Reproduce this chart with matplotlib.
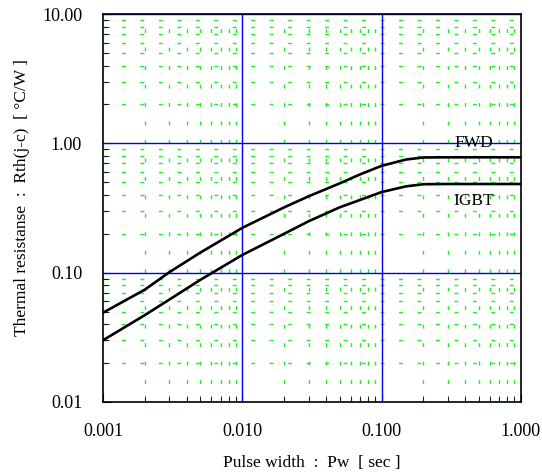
# Transient thermal resistance chart (log-log), FWD and IGBT curves.
import matplotlib
matplotlib.use("Agg")
import matplotlib.pyplot as plt
from matplotlib.ticker import FixedLocator, FixedFormatter, NullFormatter

plt.rcParams["font.family"] = ["Liberation Serif", "DejaVu Serif"]

# ------------------------------------------------------------
# Data
# ------------------------------------------------------------
pulse_width = [0.001, 0.002, 0.003, 0.005, 0.01, 0.02, 0.03, 0.05, 0.07,
               0.1, 0.15, 0.2, 0.3, 1.0]
fwd_rth = [0.049, 0.074, 0.101, 0.143, 0.222, 0.32, 0.39, 0.49, 0.575,
           0.67, 0.75, 0.778, 0.78, 0.78]
igbt_rth = [0.030, 0.047, 0.062, 0.088, 0.137, 0.20, 0.25, 0.32, 0.365,
            0.42, 0.465, 0.483, 0.485, 0.485]

x_ticks = [0.001, 0.01, 0.1, 1.0]
x_tick_labels = ["0.001", "0.010", "0.100", "1.000"]
y_ticks = [0.01, 0.1, 1.0, 10.0]
y_tick_labels = ["0.01", "0.10", "1.00", "10.00"]

# minor positions 2..9 in every decade
x_minor = [m * d for d in [0.001, 0.01, 0.1] for m in range(2, 10)]
y_minor = [m * d for d in [0.01, 0.1, 1.0] for m in range(2, 10)]

fig = plt.figure(figsize=(5.42, 4.76), dpi=100)
ax = fig.add_axes([0.190, 0.1555, 0.771, 0.815])

ax.set_xscale("log")
ax.set_yscale("log")
ax.set_xlim(0.001, 1.0)
ax.set_ylim(0.01, 10.0)

# green dashed minor grid
for xv in x_minor:
    ax.axvline(xv, color="#22ee22", lw=1.0, dashes=(2.8, 10.5), zorder=1)
for yv in y_minor:
    ax.axhline(yv, color="#22ee22", lw=1.0, dashes=(2.8, 10.5), zorder=1)

# blue major grid
for xv in x_ticks[1:-1]:
    ax.axvline(xv, color="#0000ee", lw=1.0, zorder=2)
for yv in y_ticks[1:]:
    ax.axhline(yv, color="#0000ee", lw=1.0, zorder=2)

# curves
ax.plot(pulse_width, fwd_rth, color="black", lw=1.9, zorder=3,
        solid_joinstyle="round")
ax.plot(pulse_width, igbt_rth, color="black", lw=1.9, zorder=3,
        solid_joinstyle="round")

ax.text(0.335, 1.0, "FWD", fontsize=12.5, va="center", ha="left", zorder=4)
ax.text(0.33, 0.36, "IGBT", fontsize=12.5, va="center", ha="left", zorder=4)

# ticks
ax.xaxis.set_major_locator(FixedLocator(x_ticks))
ax.xaxis.set_major_formatter(FixedFormatter(x_tick_labels))
ax.xaxis.set_minor_locator(FixedLocator(x_minor))
ax.xaxis.set_minor_formatter(NullFormatter())
ax.yaxis.set_major_locator(FixedLocator(y_ticks))
ax.yaxis.set_major_formatter(FixedFormatter(y_tick_labels))
ax.yaxis.set_minor_locator(FixedLocator(y_minor))
ax.yaxis.set_minor_formatter(NullFormatter())

ax.tick_params(which="both", direction="in", top=False, right=False,
               labelsize=13, color="black")
ax.tick_params(which="major", length=6)
ax.tick_params(which="minor", length=4)
ax.tick_params(axis="x", which="major", pad=15)
ax.tick_params(axis="y", which="major", pad=15)

for sp in ax.spines.values():
    sp.set_linewidth(1.2)
    sp.set_zorder(5)

ax.set_xlabel("Pulse width  :  Pw  [ sec ]", fontsize=12.5)
ax.set_ylabel("Thermal resistanse  :  Rth(j-c)  [ °C/W ]", fontsize=12.5)
ax.xaxis.set_label_coords(0.5, -0.136)
ax.yaxis.set_label_coords(-0.175, 0.527)

fig.savefig("out.png", dpi=100)
plt.close(fig)
